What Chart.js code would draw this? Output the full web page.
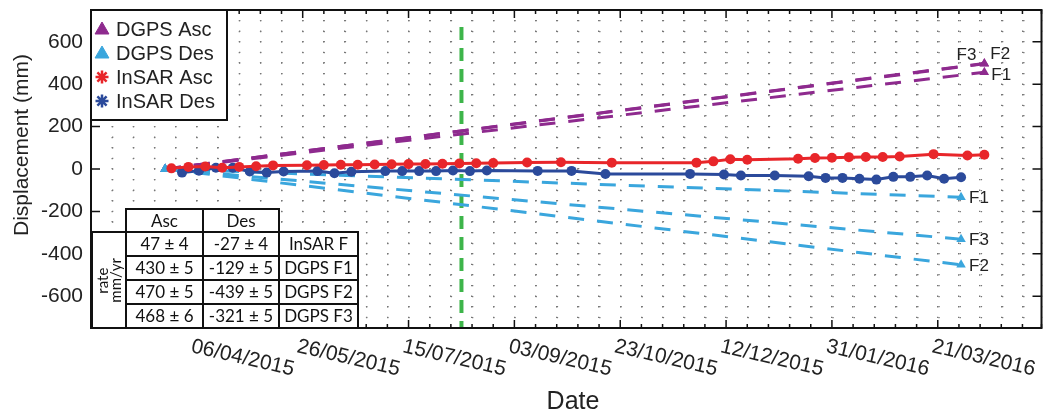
<!DOCTYPE html>
<html>
<head>
<meta charset="utf-8">
<script src="https://cdn.jsdelivr.net/npm/chart.js@4.4.1/dist/chart.umd.min.js"></script>
<style>
  body { margin: 0; background: #fff; }
  #wrap { position: relative; width: 1047px; height: 412px; }
  #rates { position: absolute; left: 91px; top: 208px; border-collapse: collapse; table-layout: fixed;
           font-family: Lato, "Open Sans", sans-serif; font-size: 17px; color: #111; }
  #rates td { border: 2px solid #111; padding: 0; text-align: center; background: #fff; line-height: 20px; }
  #rates td.blank { border: none; background: transparent; }
  #rates td.side div { writing-mode: vertical-rl; transform: rotate(180deg); font-size: 15px; line-height: 13px; margin: 0 auto; }
</style>
</head>
<body>
<div id="wrap">
  <canvas id="c" width="1047" height="412"></canvas>
  <table id="rates"></table>
</div>
<script>
// InSAR series (mm)
const insarAscDates = ['25/03/2015','02/04/2015','10/04/2015','18/04/2015','26/04/2015','04/05/2015','12/05/2015',
  '28/05/2015','05/06/2015','13/06/2015','21/06/2015','29/06/2015','07/07/2015','15/07/2015','23/07/2015','31/07/2015',
  '08/08/2015','16/08/2015','24/08/2015','09/09/2015','25/09/2015','19/10/2015','28/11/2015','06/12/2015','14/12/2015',
  '22/12/2015','15/01/2016','23/01/2016','31/01/2016','08/02/2016','16/02/2016','24/02/2016','03/03/2016','19/03/2016',
  '04/04/2016','12/04/2016'];
const insarAscMm = [3, 10, 12, 6, 10, 13, 17, 18, 19, 20, 20, 21, 22, 23, 24, 25, 26, 27, 28, 31, 32, 30,
  30, 36, 46, 44, 48, 52, 53, 56, 57, 57, 59, 70, 64, 67];

const insarDesDates = ['30/03/2015','07/04/2015','15/04/2015','23/04/2015','01/05/2015','09/05/2015','17/05/2015',
  '02/06/2015','10/06/2015','18/06/2015','04/07/2015','12/07/2015','20/07/2015','28/07/2015','05/08/2015','13/08/2015',
  '21/08/2015','14/09/2015','30/09/2015','16/10/2015','25/11/2015','11/12/2015','19/12/2015','04/01/2016','20/01/2016',
  '28/01/2016','05/02/2016','13/02/2016','21/02/2016','29/02/2016','08/03/2016','16/03/2016','24/03/2016','01/04/2016'];
const insarDesMm = [-17, -8, 6, 6, -12, -17, -12, -10, -20, -13, -10, -10, -10, -10, -7, -10, -7, -9, -9, -24,
  -23, -26, -31, -31, -34, -42, -42, -46, -50, -37, -37, -31, -46, -39];

// DGPS stations: straight line from the start date to the last date
const dgpsStations = ['F1', 'F2', 'F3'];
const dgpsStartDate = '22/03/2015';
const dgpsAscEndDate = '12/04/2016';
const dgpsAscEndMm = [456, 498, 496];
const dgpsDesEndDate = '01/04/2016';
const dgpsDesEndMm = [-133, -452, -331];

const eventDate = '09/08/2015';

const xTickDates = ['06/04/2015','26/05/2015','15/07/2015','03/09/2015','23/10/2015','12/12/2015','31/01/2016','21/03/2016'];
const yTickValues = [-600, -400, -200, 0, 200, 400, 600];

// rate table
const tableHeader = ['Asc', 'Des'];
const tableRows = ['InSAR F', 'DGPS F1', 'DGPS F2', 'DGPS F3'];
const rateAsc = ['47 ± 4', '430 ± 5', '470 ± 5', '468 ± 6'];
const rateDes = ['-27 ± 4', '-129 ± 5', '-439 ± 5', '-321 ± 5'];

const PURPLE = '#8e2a8e', LIGHTBLUE = '#3aa6dd', RED = '#e8262a', DARKBLUE = '#2b4a9b', GREEN = '#3db54a';
const FONT = '"Liberation Sans", Arial, sans-serif';

// days since 06/04/2015
function dayOf(s) {
    const [d, m, y] = s.split('/').map(Number);
    return (Date.UTC(y, m - 1, d) - Date.UTC(2015, 3, 6)) / 86400000;
}

function series(dates, values) {
    return dates.map((d, i) => ({ x: dayOf(d), y: values[i] }));
}

// label offsets for the F1/F2/F3 tags (style only)
const ascTagPos = [{dx: 7, dy: 3, align: 'left'}, {dx: 6, dy: -9, align: 'left'}, {dx: -8, dy: -9, align: 'right'}];
const desTagPos = [{dx: 8, dy: 1, align: 'left'}, {dx: 8, dy: 1, align: 'left'}, {dx: 8, dy: 1, align: 'left'}];

const datasets = [
    { label: 'InSAR Asc', data: series(insarAscDates, insarAscMm), borderColor: RED, backgroundColor: RED,
      borderWidth: 3, pointRadius: 5, pointBorderWidth: 0 },
    { label: 'InSAR Des', data: series(insarDesDates, insarDesMm), borderColor: DARKBLUE, backgroundColor: DARKBLUE,
      borderWidth: 3, pointRadius: 5, pointBorderWidth: 0 }
];
dgpsStations.forEach((st, i) => {
    datasets.push({ label: 'DGPS Des ' + st, tag: st, tagPos: desTagPos[i],
        data: [{x: dayOf(dgpsStartDate), y: 0}, {x: dayOf(dgpsDesEndDate), y: dgpsDesEndMm[i]}],
        borderColor: LIGHTBLUE, backgroundColor: LIGHTBLUE, borderWidth: 3, borderDash: [16, 13],
        pointStyle: 'triangle', pointRadius: 5.5, pointBorderWidth: 0 });
});
dgpsStations.forEach((st, i) => {
    datasets.push({ label: 'DGPS Asc ' + st, tag: st, tagPos: ascTagPos[i],
        data: [{x: dayOf(dgpsStartDate), y: 0}, {x: dayOf(dgpsAscEndDate), y: dgpsAscEndMm[i]}],
        borderColor: PURPLE, backgroundColor: PURPLE, borderWidth: 3, borderDash: [16, 13],
        pointStyle: 'triangle', pointRadius: 5.5, pointBorderWidth: 0 });
});
datasets.push({ label: 'event', data: [{x: dayOf(eventDate), y: 670}, {x: dayOf(eventDate), y: -750}],
    borderColor: GREEN, borderWidth: 4, borderDash: [13, 8], pointRadius: 0 });

const legendItems = [
    { text: 'DGPS Asc', style: 'triangle', color: PURPLE, r: 8 },
    { text: 'DGPS Des', style: 'triangle', color: LIGHTBLUE, r: 8 },
    { text: 'InSAR Asc', style: 'star', color: RED, r: 6.5 },
    { text: 'InSAR Des', style: 'star', color: DARKBLUE, r: 6.5 }
];

const decorations = {
    id: 'decorations',
    afterDraw(chart) {
        const { ctx, chartArea: a, scales: { x, y } } = chart;
        ctx.save();

        // inward ticks
        ctx.strokeStyle = '#111';
        ctx.lineWidth = 1.5;
        ctx.beginPath();
        x.ticks.forEach(t => {
            const px = x.getPixelForValue(t.value);
            const len = t.value % 50 === 0 ? 8 : 4;
            ctx.moveTo(px, a.bottom); ctx.lineTo(px, a.bottom - len);
            ctx.moveTo(px, a.top); ctx.lineTo(px, a.top + len);
        });
        yTickValues.forEach(v => {
            const py = y.getPixelForValue(v);
            ctx.moveTo(a.left, py); ctx.lineTo(a.left + 9, py);
            ctx.moveTo(a.right, py); ctx.lineTo(a.right - 9, py);
        });
        ctx.stroke();

        // frame
        ctx.lineWidth = 2;
        ctx.strokeRect(a.left, a.top, a.right - a.left, a.bottom - a.top);

        // rotated date labels
        ctx.fillStyle = '#222';
        ctx.font = '21px ' + FONT;
        ctx.textAlign = 'left';
        ctx.textBaseline = 'top';
        xTickDates.forEach(s => {
            const px = x.getPixelForValue(dayOf(s));
            ctx.save();
            ctx.translate(px - 3, a.bottom + 8);
            ctx.rotate(13 * Math.PI / 180);
            ctx.fillText(s, 0, 0);
            ctx.restore();
        });

        // axis titles
        ctx.textBaseline = 'alphabetic';
        ctx.textAlign = 'center';
        ctx.font = '25px ' + FONT;
        ctx.fillText('Date', 573, 409);
        ctx.save();
        ctx.translate(28, 145);
        ctx.rotate(-Math.PI / 2);
        ctx.font = '21px ' + FONT;
        ctx.fillText('Displacement (mm)', 0, 0);
        ctx.restore();

        // station tags at the DGPS end points
        ctx.font = '17px ' + FONT;
        ctx.textBaseline = 'middle';
        chart.data.datasets.forEach((ds, i) => {
            if (!ds.tag) return;
            const pts = chart.getDatasetMeta(i).data;
            const p = pts[pts.length - 1];
            ctx.textAlign = ds.tagPos.align;
            ctx.fillText(ds.tag, p.x + ds.tagPos.dx, p.y + ds.tagPos.dy);
        });

        // legend box
        const lx = a.left, ly = a.top, lw = 136, lh = 110;
        ctx.fillStyle = '#fff';
        ctx.fillRect(lx, ly, lw, lh);
        ctx.lineWidth = 2;
        ctx.strokeStyle = '#111';
        ctx.strokeRect(lx, ly, lw, lh);
        legendItems.forEach((it, i) => {
            const cy = ly + 19 + i * 24;
            ctx.fillStyle = it.color;
            ctx.strokeStyle = it.color;
            ctx.lineWidth = it.style === 'star' ? 2.5 : 1;
            Chart.helpers.drawPoint(ctx, { pointStyle: it.style, radius: it.r, borderWidth: it.style === 'star' ? 2.5 : 1, rotation: 0 }, lx + 11, cy + (it.style === 'triangle' ? 1 : 0));
            ctx.fillStyle = '#222';
            ctx.font = '20px ' + FONT;
            ctx.textAlign = 'left';
            ctx.textBaseline = 'middle';
            ctx.fillText(it.text, lx + 25, cy + 1);
        });

        ctx.restore();
    }
};

new Chart(document.getElementById('c'), {
    type: 'line',
    data: { datasets: datasets },
    options: {
        responsive: false,
        animation: false,
        layout: { padding: { top: 10, right: 2, left: 0, bottom: 0 } },
        plugins: { legend: { display: false }, tooltip: { enabled: false } },
        scales: {
            x: {
                type: 'linear', min: -50, max: 399, bounds: 'data',
                ticks: { display: false, stepSize: 10, autoSkip: false, includeBounds: false },
                grid: { color: '#777', lineWidth: 1.3, drawTicks: false },
                border: { display: false, dash: [1.4, 9.2], dashOffset: 0.7 },
                afterFit: s => { s.height = 84; s.paddingLeft = 0; s.paddingRight = 0; }
            },
            y: {
                type: 'linear', min: -750, max: 750, bounds: 'data',
                ticks: {
                    stepSize: 50, autoSkip: false, padding: 8, color: '#222',
                    font: { size: 21, family: FONT },
                    callback: v => yTickValues.includes(v) ? String(v) : ''
                },
                grid: { color: '#777', lineWidth: 1.3, drawTicks: false },
                border: { display: false, dash: [1.4, 19.8], dashOffset: 0.7 },
                afterFit: s => { s.width = 91; s.paddingTop = 0; s.paddingBottom = 0; }
            }
        }
    },
    plugins: [decorations]
});

// rate table
const table = document.getElementById('rates');
let html = '<colgroup><col style="width:34px"><col style="width:77px"><col style="width:76px"><col style="width:79px"></colgroup>';
html += '<tr style="height:23px"><td class="blank"></td><td>' + tableHeader[0] + '</td><td>' + tableHeader[1] + '</td><td class="blank"></td></tr>';
tableRows.forEach((r, i) => {
    html += '<tr style="height:24px">';
    if (i === 0) html += '<td class="side" rowspan="4"><div>rate<br>mm/yr</div></td>';
    html += '<td>' + rateAsc[i] + '</td><td>' + rateDes[i] + '</td><td>' + r + '</td></tr>';
});
table.innerHTML = html;
table.style.width = '266px';
</script>
</body>
</html>
